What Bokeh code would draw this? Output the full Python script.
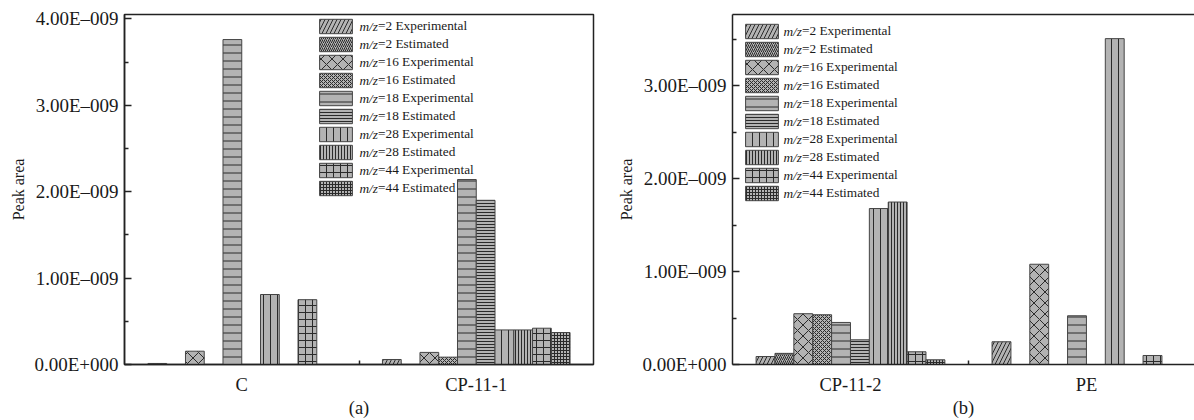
from bokeh.plotting import figure
from bokeh.models import (Range1d, FixedTicker, LinearAxis, Legend, LegendItem,
                          CustomJSTickFormatter, Label)
from bokeh.layouts import row
from bokeh.embed import file_html
from bokeh.resources import INLINE

# ---------------- data ----------------
series_labels = ["m/z=2 Experimental", "m/z=2 Estimated",
                 "m/z=16 Experimental", "m/z=16 Estimated",
                 "m/z=18 Experimental", "m/z=18 Estimated",
                 "m/z=28 Experimental", "m/z=28 Estimated",
                 "m/z=44 Experimental", "m/z=44 Estimated"]

groups_a = ["C", "CP-11-1"]
groups_b = ["CP-11-2", "PE"]

c_values      = [0.012e-9, 0.0, 0.154e-9, 0.0, 3.76e-9, 0.0, 0.81e-9, 0.0, 0.75e-9, 0.0]
cp111_values  = [0.058e-9, 0.0, 0.14e-9, 0.085e-9, 2.14e-9, 1.90e-9, 0.40e-9, 0.40e-9, 0.42e-9, 0.37e-9]
cp112_values  = [0.086e-9, 0.12e-9, 0.547e-9, 0.536e-9, 0.453e-9, 0.266e-9, 1.68e-9, 1.75e-9, 0.137e-9, 0.05e-9]
pe_values     = [0.245e-9, 0.0, 1.08e-9, 0.0, 0.525e-9, 0.0, 3.51e-9, 0.0, 0.097e-9, 0.0]

y_ticks_a = [0.0, 1e-9, 2e-9, 3e-9, 4e-9]
y_tick_labels_a = ["0.00E+000", "1.00E\u2013009", "2.00E\u2013009", "3.00E\u2013009", "4.00E\u2013009"]
y_ticks_b = [0.0, 1e-9, 2e-9, 3e-9]
y_tick_labels_b = ["0.00E+000", "1.00E\u2013009", "2.00E\u2013009", "3.00E\u2013009"]
y_minor_a = [0.5e-9, 1.5e-9, 2.5e-9, 3.5e-9]
y_minor_b = [0.5e-9, 1.5e-9, 2.5e-9, 3.5e-9]

# ---------------- styles ----------------
FONT = "Liberation Serif"
TXT = "#1a1a1a"
patterns = ["/", "/", "x", "x", "-", "-", "|", "|", "+", "+"]
hscales = [8, 4, 11, 4, 8, 3, 7, 3, 7, 3]
BAR_W = 0.08
LEG_FS = "13.3px"
GLYPH_W, ROW_H = 41, 18
MZ_W = 19  # width reserved for the italic "m/z"

label_js = """
let best = 0;
for (let i = 0; i < tvals.length; i++) {
  if (Math.abs(tvals[i] - tick) < Math.abs(tvals[best] - tick)) best = i;
}
return tlabels[best];
"""


def make_panel(groups, values_by_group, y_ticks, y_labels, y_minor, y_end,
               x_end, width, border_left, border_right, panel_label,
               legend_loc, legend_standoff, box):
    p = figure(width=width, height=420, output_backend="svg", toolbar_location=None,
               x_range=Range1d(-0.5, x_end), y_range=Range1d(0, y_end),
               min_border_left=border_left, min_border_right=border_right,
               min_border_top=14, min_border_bottom=56)
    p.grid.visible = False
    p.background_fill_color = "white"

    renderers = []
    for i, lab in enumerate(series_labels):
        off = -0.4 + BAR_W * (i + 0.5)
        xs = [g + off for g in range(len(groups))]
        tops = [values_by_group[g][i] for g in range(len(groups))]
        r = p.vbar(x=xs, top=tops, bottom=0, width=BAR_W,
                   fill_color="#b3b3b3", line_color="#444", line_width=1,
                   hatch_pattern=patterns[i], hatch_scale=hscales[i],
                   hatch_color="#2a2a2a", hatch_weight=1)
        renderers.append(r)

    # x axis
    xa = p.below[0]
    xa.ticker = FixedTicker(ticks=list(range(len(groups))), minor_ticks=[0.5])
    xa.formatter = CustomJSTickFormatter(
        args=dict(tvals=list(range(len(groups))), tlabels=groups), code=label_js)
    xa.major_tick_line_color = None
    xa.major_tick_in = 0
    xa.major_tick_out = 0
    xa.minor_tick_in = 4
    xa.minor_tick_out = 0
    xa.minor_tick_line_color = "#222"
    xa.minor_tick_line_width = 1.5
    xa.axis_line_color = "#222"
    xa.axis_line_width = 1.5
    xa.major_label_text_font = FONT
    xa.major_label_text_font_size = "18.5px"
    xa.major_label_text_color = TXT
    xa.major_label_standoff = 10
    xa.axis_label = panel_label
    xa.axis_label_text_font = FONT
    xa.axis_label_text_font_size = "18.5px"
    xa.axis_label_text_font_style = "normal"
    xa.axis_label_text_color = TXT
    xa.axis_label_standoff = 0

    # y axis
    ya = p.left[0]
    ya.ticker = FixedTicker(ticks=y_ticks, minor_ticks=y_minor)
    ya.formatter = CustomJSTickFormatter(args=dict(tvals=y_ticks, tlabels=y_labels), code=label_js)
    ya.major_tick_in = 7
    ya.major_tick_out = 0
    ya.minor_tick_in = 4
    ya.minor_tick_out = 0
    ya.major_tick_line_color = "#222"
    ya.minor_tick_line_color = "#222"
    ya.major_tick_line_width = 1.5
    ya.minor_tick_line_width = 1.5
    ya.axis_line_color = "#222"
    ya.axis_line_width = 1.5
    ya.major_label_text_font = FONT
    ya.major_label_text_font_size = "19px"
    ya.major_label_text_color = TXT
    ya.major_label_standoff = 6
    ya.axis_label = "Peak area"
    ya.axis_label_text_font = FONT
    ya.axis_label_text_font_size = "16px"
    ya.axis_label_text_font_style = "normal"
    ya.axis_label_text_color = TXT
    ya.axis_label_standoff = 4

    if box:
        p.outline_line_color = "#222"
        p.outline_line_width = 1.5
        p.outline_line_alpha = 1
    else:
        p.outline_line_color = None
        top = LinearAxis(ticker=FixedTicker(ticks=[]), axis_line_color="#222",
                         axis_line_width=1.5, major_tick_line_color=None,
                         minor_tick_line_color=None, major_label_standoff=0,
                         major_tick_out=0, major_tick_in=0)
        p.add_layout(top, "above")

    # legend: swatches + regular part of the label; italic "m/z" added as labels
    parts = [lab.split("=", 1) for lab in series_labels]
    legend = Legend(items=[LegendItem(label="=" + rest, renderers=[r])
                           for (_, rest), r in zip(parts, renderers)],
                    location=legend_loc, orientation="vertical",
                    glyph_width=GLYPH_W, glyph_height=ROW_H, label_height=ROW_H, spacing=0,
                    padding=0, margin=0, label_standoff=legend_standoff + MZ_W,
                    border_line_color=None, background_fill_alpha=0,
                    label_text_font=FONT, label_text_font_size=LEG_FS,
                    label_text_color=TXT)
    p.add_layout(legend)
    n = len(series_labels)
    lx, ly = legend_loc
    for i, (head, _) in enumerate(parts):
        p.add_layout(Label(x=lx + GLYPH_W + legend_standoff,
                           y=ly + ROW_H * (n - i) - ROW_H / 2,
                           x_units="screen", y_units="screen", text=head,
                           text_font=FONT, text_font_size=LEG_FS,
                           text_font_style="italic", text_color=TXT,
                           text_align="left", text_baseline="middle"))
    return p


pa = make_panel(groups_a, [c_values, cp111_values], y_ticks_a, y_tick_labels_a, y_minor_a,
                4.05e-9, 1.5, 610, 124, 17, "(a)", (191, 167), 3, True)
pb = make_panel(groups_b, [cp112_values, pe_values], y_ticks_b, y_tick_labels_b, y_minor_b,
                3.77e-9, 1.458, 584, 122, 0, "(b)", (9, 162), 1, False)

layout = row(pa, pb, spacing=0)
open("out.html", "w").write(file_html(layout, INLINE))
